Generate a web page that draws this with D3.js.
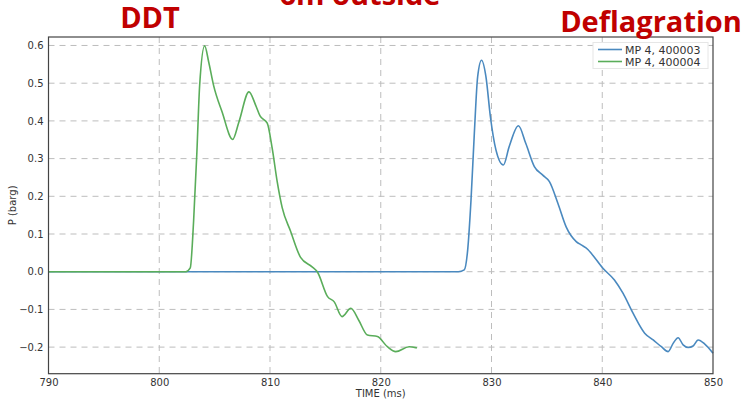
<!DOCTYPE html>
<html><head><meta charset="utf-8">
<script src="https://cdn.jsdelivr.net/npm/d3@7"></script>
<style>body{margin:0;background:#fff}svg{display:block}</style>
</head><body><svg id="c" width="748" height="401"></svg>
<script>
const xTicks = [790, 800, 810, 820, 830, 840, 850];
const yTicks = [-0.2, -0.1, 0.0, 0.1, 0.2, 0.3, 0.4, 0.5, 0.6];
const seriesNames = ["MP 4, 400003", "MP 4, 400004"];
const titles = ["DDT", "6m outside", "Deflagration"];

// MP 4, 400003 (blue) [time ms, pressure barg]
const blueT = [790, 800, 810, 820, 827.0, 827.54, 827.85, 828.15, 828.45, 828.75, 829.1, 829.5, 829.9, 830.4, 831.07, 831.6, 832.43, 833.1, 833.87, 834.63, 835.23, 836.0, 836.74, 837.65, 838.1, 838.7, 839.0, 840.06, 841.1, 841.87, 842.78, 843.83, 844.6, 845.34, 845.95, 846.4, 846.85, 847.3, 847.76, 848.2, 848.66, 849.26, 850.0];
const blueP = [0, 0, 0, 0, 0, 0.005, 0.058, 0.19, 0.367, 0.517, 0.561, 0.517, 0.411, 0.323, 0.283, 0.332, 0.387, 0.34, 0.279, 0.256, 0.239, 0.181, 0.119, 0.08, 0.071, 0.059, 0.049, 0.009, -0.022, -0.057, -0.11, -0.163, -0.181, -0.199, -0.212, -0.19, -0.175, -0.194, -0.201, -0.197, -0.181, -0.192, -0.216];

// MP 4, 400004 (green)
const greenT = [790, 795, 800, 802.4, 802.8, 803.1, 803.4, 803.65, 804.1, 804.46, 804.9, 805.67, 806.63, 807.2, 808.1, 808.7, 809.1, 809.75, 810.2, 810.65, 811.1, 811.85, 812.76, 813.8, 814.27, 815.2, 815.8, 816.5, 817.3, 818.0, 818.8, 819.7, 820.6, 821.35, 822.56, 823.26];
const greenP = [0, 0, 0, 0, 0.01, 0.133, 0.318, 0.495, 0.599, 0.557, 0.495, 0.424, 0.351, 0.398, 0.477, 0.442, 0.413, 0.394, 0.327, 0.239, 0.17, 0.108, 0.038, 0.013, 0.0, -0.066, -0.08, -0.119, -0.097, -0.128, -0.168, -0.172, -0.199, -0.212, -0.199, -0.202];

const colors = ["#4a89bf", "#5aad5a"];

const svg = d3.select("#c");
const L = 48.5, R = 713, T = 37, B = 373.7;
const x = d3.scaleLinear().domain([790, 850]).range([L, R]);
const y = d3.scaleLinear().domain([-0.2705, 0.6225]).range([B, T]);

// grid
const g = svg.append("g");
g.selectAll(".vg").data(xTicks.slice(1, -1)).enter().append("line")
  .attr("x1", d => x(d)).attr("x2", d => x(d)).attr("y1", T).attr("y2", B)
  .attr("stroke", "#bdbdbd").attr("stroke-dasharray", "6,5").attr("stroke-width", 1);
g.selectAll(".hg").data(yTicks).enter().append("line")
  .attr("x1", L).attr("x2", R).attr("y1", d => y(d)).attr("y2", d => y(d))
  .attr("stroke", "#bdbdbd").attr("stroke-dasharray", "6,5").attr("stroke-width", 1);

// axes
const fmtY = d => (d < 0 ? "\u2212" + Math.abs(d).toFixed(1) : d.toFixed(1));
const xAxis = svg.append("g").attr("transform", `translate(0,${B})`)
  .call(d3.axisBottom(x).tickValues(xTicks).tickSize(0).tickPadding(5).tickFormat(d3.format("d")));
const yAxis = svg.append("g").attr("transform", `translate(${L},0)`)
  .call(d3.axisLeft(y).tickValues(yTicks).tickSize(0).tickPadding(5).tickFormat(fmtY));
[xAxis, yAxis].forEach(a => {
  a.select(".domain").remove();
  a.selectAll("text").attr("font-family", "DejaVu Sans, sans-serif").attr("font-size", 10).attr("fill", "#333");
});

// lines
const line = d3.line().x(d => x(d[0])).y(d => y(d[1])).curve(d3.curveMonotoneX);
const blue = blueT.map((t, i) => [t, blueP[i]]);
const green = greenT.map((t, i) => [t, greenP[i]]);
svg.append("path").datum(blue).attr("d", line).attr("fill", "none").attr("stroke", colors[0]).attr("stroke-width", 1.6);
svg.append("path").datum(green).attr("d", line).attr("fill", "none").attr("stroke", colors[1]).attr("stroke-width", 1.6);

// frame
svg.append("rect").attr("x", L).attr("y", T).attr("width", R - L).attr("height", B - T)
  .attr("fill", "none").attr("stroke", "#444").attr("stroke-width", 1.2);

// labels
svg.append("text").attr("x", x(820)).attr("y", 397).attr("text-anchor", "middle")
  .attr("font-family", "DejaVu Sans, sans-serif").attr("font-size", 10).attr("fill", "#333").text("TIME (ms)");
svg.append("text").attr("transform", `translate(16,${(T + B) / 2}) rotate(-90)`).attr("text-anchor", "middle")
  .attr("font-family", "DejaVu Sans, sans-serif").attr("font-size", 10).attr("fill", "#333").text("P (barg)");

// legend
const lg = svg.append("g");
lg.append("rect").attr("x", 593).attr("y", 42.5).attr("width", 115).attr("height", 26)
  .attr("fill", "#fff").attr("stroke", "#e6e6e6");
seriesNames.forEach((n, i) => {
  const yy = 49.5 + i * 12;
  lg.append("line").attr("x1", 598).attr("x2", 622).attr("y1", yy).attr("y2", yy)
    .attr("stroke", colors[i]).attr("stroke-width", 1.6);
  lg.append("text").attr("x", 625).attr("y", yy + 4).attr("font-family", "DejaVu Sans, sans-serif")
    .attr("font-size", 11).attr("fill", "#333").text(n);
});

// titles
const tt = svg.append("g").attr("font-family", "Open Sans, sans-serif").attr("font-weight", "bold")
  .attr("font-size", 29).attr("fill", "#c00000").attr("text-anchor", "middle");
tt.append("text").attr("x", 150).attr("y", 28).text(titles[0]);
tt.append("text").attr("x", 360).attr("y", 5).text(titles[1]);
tt.append("text").attr("x", 651).attr("y", 32).text(titles[2]);
</script></body></html>
